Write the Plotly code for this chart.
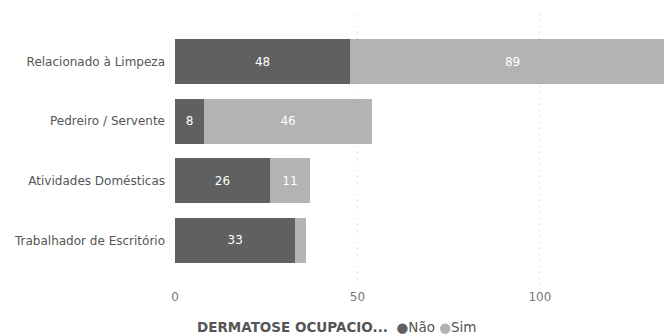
import plotly.graph_objects as go

# Occupational dermatosis cases by occupation
categories = ["Relacionado à Limpeza", "Pedreiro / Servente",
              "Atividades Domésticas", "Trabalhador de Escritório"]
nao = [48, 8, 26, 33]
sim = [89, 46, 11, 3]
series_names = ["Não", "Sim"]
legend_title = "DERMATOSE OCUPACIO..."
x_ticks = [0, 50, 100]

dark = "#606060"
light = "#b3b3b3"
font = "DejaVu Sans"

fig = go.Figure()
for name, vals, col in [(series_names[0], nao, dark), (series_names[1], sim, light)]:
    fig.add_trace(go.Bar(
        y=categories, x=vals, orientation="h", name=name,
        marker=dict(color=col, line=dict(width=0)),
        text=vals, textposition="inside", insidetextanchor="middle",
        textfont=dict(family=font, size=12, color="#ffffff"),
        hoverinfo="skip", cliponaxis=True,
    ))

fig.update_layout(
    barmode="stack", bargap=0.24,
    width=664, height=336,
    margin=dict(l=175, r=0, t=14, b=48),
    paper_bgcolor="white", plot_bgcolor="white",
    showlegend=False,
    uniformtext=dict(minsize=12, mode="hide"),
    font=dict(family=font, size=12, color="#666666"),
)
fig.update_xaxes(
    range=[0, 134], tickvals=x_ticks, ticktext=[str(v) for v in x_ticks],
    showgrid=True, gridcolor="#cccccc", griddash="1px,5px", gridwidth=1,
    zeroline=False, showline=False, ticks="",
    tickfont=dict(family=font, size=12, color="#777777"),
)
fig.update_yaxes(
    categoryorder="array", categoryarray=categories,
    range=[3.8, -0.8], showgrid=False, zeroline=False, showline=False,
    ticks="", ticklabelstandoff=9,
    tickfont=dict(family=font, size=12, color="#555555"),
)

legend_text = (
    f"<b>{legend_title}</b>  "
    f"<span style='color:{dark}'>●</span>{series_names[0]} "
    f"<span style='color:{light}'>●</span>{series_names[1]}"
)
fig.add_annotation(
    text=legend_text, xref="paper", yref="paper",
    x=(195 - 175) / 489, y=(288 - 327) / 274,
    xanchor="left", yanchor="middle", showarrow=False,
    font=dict(family=font, size=13.5, color="#555555"),
)

fig.write_html("out.html")
